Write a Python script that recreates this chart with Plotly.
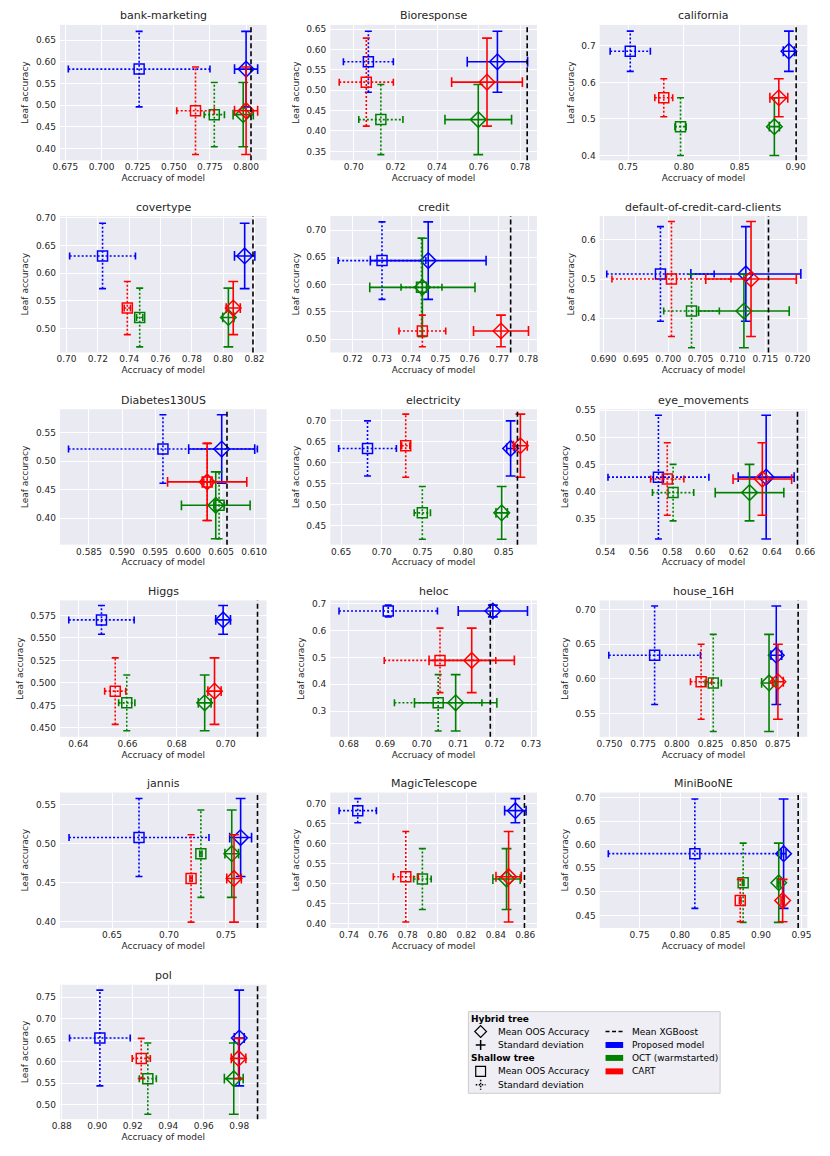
import plotly.graph_objects as go

# figure fills the whole 830x1156 page (body margin removed after drawing)
FIG_W, FIG_H, PAD = 830, 1156, 0

names = ["bank-marketing", "Bioresponse", "california", "covertype", "credit",
         "default-of-credit-card-clients", "Diabetes130US", "electricity",
         "eye_movements", "Higgs", "heloc", "house_16H", "jannis",
         "MagicTelescope", "MiniBooNE", "pol"]

# Proposed model (blue)
prop_leaf = [0.583, 0.570, 0.685, 0.631, 0.644, 0.513, 0.521, 0.634, 0.427, 0.570, 0.673, 0.634, 0.508, 0.682, 0.581, 0.655]
prop_leaf_sd = [0.087, 0.075, 0.055, 0.059, 0.071, 0.121, 0.060, 0.066, 0.114, 0.016, 0.022, 0.071, 0.050, 0.030, 0.116, 0.111]
prop_shallow = [0.726, 0.707, 0.752, 0.723, 0.730, 0.6988, 0.5962, 0.6825, 0.5718, 0.6494, 0.6908, 0.7835, 0.6737, 0.746, 0.8183, 0.9015]
prop_shallow_sd = [0.049, 0.012, 0.018, 0.021, 0.015, 0.0083, 0.0143, 0.0355, 0.0303, 0.0133, 0.0135, 0.034, 0.0614, 0.0127, 0.107, 0.0171]
prop_hybrid = [0.800, 0.769, 0.894, 0.8137, 0.7458, 0.712, 0.6051, 0.8585, 0.6365, 0.6989, 0.7195, 0.8738, 0.7629, 0.8533, 0.928, 0.980]
prop_hybrid_sd = [0.008, 0.0145, 0.005, 0.0065, 0.0198, 0.0085, 0.005, 0.0048, 0.0168, 0.003, 0.0095, 0.004, 0.0096, 0.0073, 0.003, 0.0028]

# OCT warmstarted (green)
oct_leaf = [0.478, 0.428, 0.479, 0.520, 0.595, 0.418, 0.4224, 0.480, 0.3985, 0.4778, 0.331, 0.594, 0.4873, 0.5112, 0.5193, 0.5608]
oct_leaf_sd = [0.074, 0.086, 0.079, 0.053, 0.090, 0.094, 0.0585, 0.063, 0.052, 0.031, 0.105, 0.070, 0.056, 0.076, 0.084, 0.0827]
oct_shallow = [0.778, 0.713, 0.797, 0.7467, 0.7435, 0.7036, 0.6047, 0.7499, 0.5806, 0.6597, 0.7045, 0.827, 0.728, 0.790, 0.878, 0.9285]
oct_shallow_sd = [0.007, 0.0106, 0.005, 0.002, 0.007, 0.0043, 0.0008, 0.010, 0.0124, 0.0033, 0.012, 0.006, 0.001, 0.006, 0.001, 0.0048]
oct_hybrid = [0.798, 0.7598, 0.881, 0.8033, 0.7438, 0.7117, 0.6042, 0.8475, 0.6265, 0.6914, 0.7093, 0.8684, 0.7551, 0.8473, 0.922, 0.9769]
oct_hybrid_sd = [0.007, 0.016, 0.0045, 0.0036, 0.018, 0.007, 0.0052, 0.007, 0.0206, 0.0026, 0.0113, 0.0055, 0.006, 0.0093, 0.002, 0.0053]

# CART (red)
cart_leaf = [0.487, 0.520, 0.558, 0.537, 0.515, 0.500, 0.4634, 0.6405, 0.4235, 0.4908, 0.489, 0.5957, 0.4555, 0.517, 0.4815, 0.6077]
cart_leaf_sd = [0.101, 0.108, 0.052, 0.048, 0.029, 0.147, 0.0675, 0.0755, 0.0667, 0.037, 0.120, 0.054, 0.056, 0.113, 0.045, 0.0465]
cart_shallow = [0.765, 0.706, 0.782, 0.7388, 0.7438, 0.7005, 0.6029, 0.7295, 0.5771, 0.655, 0.705, 0.818, 0.7194, 0.7787, 0.8744, 0.9248]
cart_shallow_sd = [0.013, 0.013, 0.008, 0.002, 0.008, 0.0092, 0.0005, 0.005, 0.010, 0.0043, 0.0153, 0.0079, 0.001, 0.0085, 0.001, 0.0051]
cart_hybrid = [0.800, 0.764, 0.885, 0.8064, 0.7707, 0.7128, 0.6029, 0.8705, 0.6342, 0.6954, 0.7137, 0.875, 0.7571, 0.8487, 0.9268, 0.9796]
cart_hybrid_sd = [0.008, 0.017, 0.008, 0.0045, 0.0094, 0.007, 0.006, 0.0085, 0.0176, 0.0027, 0.0117, 0.004, 0.0064, 0.0086, 0.002, 0.0041]

# Mean XGBoost accuracy
xgb = [0.8034, 0.7833, 0.9005, 0.819, 0.774, 0.7155, 0.6059, 0.8669, 0.6553, 0.7129, 0.7188, 0.890, 0.7777, 0.8595, 0.946, 0.9903]

# axis ranges and tick steps
x_range = [[0.6712, 0.8142], [0.6887, 0.788], [0.7246, 0.9105], [0.6958, 0.8277],
           [0.7123, 0.783], [0.6894, 0.7215], [0.5806, 0.6119], [0.6367, 0.8909],
           [0.5365, 0.6612], [0.6325, 0.7166], [0.6749, 0.7316], [0.7427, 0.8968],
           [0.6043, 0.7857], [0.7273, 0.868], [0.7006, 0.9573], [0.879, 0.9954]]
y_range = [[0.3726, 0.685], [0.328, 0.6605], [0.387, 0.757], [0.4568, 0.703],
           [0.4756, 0.7256], [0.312, 0.661], [0.3535, 0.5907], [0.404, 0.7278],
           [0.3027, 0.552], [0.44, 0.5917], [0.2044, 0.7124], [0.5163, 0.713],
           [0.392, 0.5657], [0.389, 0.7272], [0.4234, 0.7105], [0.4669, 0.7785]]
x_dtick = [0.025, 0.02, 0.05, 0.02, 0.01, 0.005, 0.005, 0.05, 0.02, 0.02, 0.01, 0.025, 0.05, 0.02, 0.05, 0.02]
y_dtick = [0.05, 0.05, 0.1, 0.05, 0.05, 0.1, 0.05, 0.05, 0.05, 0.025, 0.1, 0.05, 0.05, 0.05, 0.05, 0.05]

models = [
    ("#0000FF", prop_leaf, prop_leaf_sd, prop_shallow, prop_shallow_sd, prop_hybrid, prop_hybrid_sd),
    ("#008000", oct_leaf, oct_leaf_sd, oct_shallow, oct_shallow_sd, oct_hybrid, oct_hybrid_sd),
    ("#FF0000", cart_leaf, cart_leaf_sd, cart_shallow, cart_shallow_sd, cart_hybrid, cart_hybrid_sd),
]

# pixel boxes of the subplot grid (reference page coords)
col_px = [(52, 263), (328, 539), (603, 815)]
row_px = [(21, 157), (213, 350), (407, 543), (599, 736), (792, 928), (985, 1120)]


def px_x(px):
    return (px - PAD) / FIG_W


def px_y(py):
    return 1 - (py - PAD) / FIG_H


def fmt(step):
    return ".3f" if step in (0.025, 0.005) else (".1f" if step == 0.1 else ".2f")


TXT = "#262626"
FONT = "DejaVu Sans"

fig = go.Figure()
annotations, shapes = [], []

for i, name in enumerate(names):
    r, c = divmod(i, 3)
    n = i + 1
    suf = "" if n == 1 else str(n)
    xa, ya = "x" + suf, "y" + suf
    (x0, x1), (y0, y1) = col_px[c], row_px[r]

    fig.update_layout({
        "xaxis" + suf: dict(domain=[px_x(x0), px_x(x1)], anchor=ya, range=x_range[i],
                            tick0=0, dtick=x_dtick[i], tickformat=fmt(x_dtick[i]),
                            showgrid=True, gridcolor="white", gridwidth=1.2, zeroline=False,
                            showline=False, ticks="", tickfont=dict(size=9, color=TXT),
                            title=dict(text="Accruacy of model", font=dict(size=9, color=TXT),
                                       standoff=3)),
        "yaxis" + suf: dict(domain=[px_y(y1), px_y(y0)], anchor=xa, range=y_range[i],
                            tick0=0, dtick=y_dtick[i], tickformat=fmt(y_dtick[i]),
                            showgrid=True, gridcolor="white", gridwidth=1.2, zeroline=False,
                            showline=False, ticks="", tickfont=dict(size=9, color=TXT),
                            ticklabelstandoff=3,
                            title=dict(text="Leaf accuracy", font=dict(size=9, color=TXT),
                                       standoff=5)),
    })

    for color, leaf, leaf_sd, sh, sh_sd, hy, hy_sd in models:
        ym, ys = leaf[i], leaf_sd[i]
        for acc, acc_sd, sym, dash, cap, msize in [
                (sh[i], sh_sd[i], "square-open", "2px,2px", 5, 10),
                (hy[i], hy_sd[i], "diamond-open", "solid", 7, 12)]:
            # error bars: horizontal (accuracy) and vertical (leaf accuracy) with caps
            fig.add_trace(go.Scatter(
                x=[acc - acc_sd, acc + acc_sd, None, acc, acc],
                y=[ym, ym, None, ym - ys, ym + ys],
                xaxis=xa, yaxis=ya, mode="lines+markers",
                line=dict(color=color, width=1.6, dash=dash),
                marker=dict(symbol=["line-ns", "line-ns", "line-ns", "line-ew", "line-ew"],
                            size=cap, color=color, line=dict(color=color, width=1.6)),
                hoverinfo="skip", showlegend=False))
            fig.add_trace(go.Scatter(
                x=[acc], y=[ym], xaxis=xa, yaxis=ya, mode="markers",
                marker=dict(symbol=sym, size=msize, color=color, line=dict(width=1.5)),
                showlegend=False))

    # mean XGBoost line
    shapes.append(dict(type="line", xref=xa, yref=ya + " domain", x0=xgb[i], x1=xgb[i],
                       y0=0, y1=1, line=dict(color="black", width=1.6, dash="5px,3px")))

    annotations.append(dict(text=name, x=(px_x(x0) + px_x(x1)) / 2, y=px_y(y0 - 9),
                            xref="paper", yref="paper", showarrow=False,
                            xanchor="center", yanchor="middle",
                            font=dict(size=11, color=TXT)))

# ---- legend box (drawn by hand) ----
shapes.append(dict(type="rect", xref="paper", yref="paper",
                   x0=px_x(469), x1=px_x(726), y0=px_y(1094), y1=px_y(1012),
                   fillcolor="#EEEEF4", line=dict(color="#CCCCCC", width=1)))


def leg_text(t, px, py, bold=False):
    annotations.append(dict(text="<b>%s</b>" % t if bold else t, x=px_x(px), y=px_y(py),
                            xref="paper", yref="paper", showarrow=False,
                            xanchor="left", yanchor="middle",
                            font=dict(size=9, color="black")))


def seg(ax, ay, bx, by, dash="solid", width=1.5, color="black"):
    shapes.append(dict(type="line", xref="paper", yref="paper",
                       x0=px_x(ax), y0=px_y(ay), x1=px_x(bx), y1=px_y(by),
                       line=dict(color=color, width=width, dash=dash)))


def poly(pts):
    path = "M " + " L ".join("%f,%f" % (px_x(a), px_y(b)) for a, b in pts) + " Z"
    shapes.append(dict(type="path", xref="paper", yref="paper", path=path,
                       line=dict(color="black", width=1.2)))


leg_text("Hybrid tree", 470, 1019, bold=True)
poly([(481.5, 1026), (487.5, 1032), (481.5, 1038), (475.5, 1032)])
leg_text("Mean OOS Accuracy", 497, 1032)
seg(476.5, 1045.5, 486.5, 1045.5)
seg(481.5, 1040.5, 481.5, 1050.5)
leg_text("Standard deviation", 497, 1045.5)
leg_text("Shallow tree", 470, 1059, bold=True)
poly([(476.5, 1067), (486.5, 1067), (486.5, 1077), (476.5, 1077)])
leg_text("Mean OOS Accuracy", 497, 1072)
seg(476.5, 1085.5, 486.5, 1085.5, dash="1.5px,1.5px")
seg(481.5, 1080.5, 481.5, 1090.5, dash="1.5px,1.5px")
leg_text("Standard deviation", 497, 1085.5)

seg(609, 1032, 628, 1032, dash="4px,2.5px")
leg_text("Mean XGBoost", 634, 1032)
for yy, col, lab in [(1045.5, "#0000FF", "Proposed model"),
                     (1058.5, "#008000", "OCT (warmstarted)"),
                     (1072, "#FF0000", "CART")]:
    shapes.append(dict(type="rect", xref="paper", yref="paper",
                       x0=px_x(609), x1=px_x(627), y0=px_y(yy + 3), y1=px_y(yy - 3),
                       fillcolor=col, line=dict(width=0)))
    leg_text(lab, 634, yy)

fig.update_layout(
    width=FIG_W, height=FIG_H,
    margin=dict(l=0, r=0, t=0, b=0),
    paper_bgcolor="white", plot_bgcolor="#EAEAF2",
    font=dict(family=FONT, color=TXT),
    showlegend=False,
    annotations=annotations, shapes=shapes,
)

fig.write_html("out.html", config={"displayModeBar": False},
               post_script="document.body.style.margin='0';document.body.style.overflow='hidden';")
